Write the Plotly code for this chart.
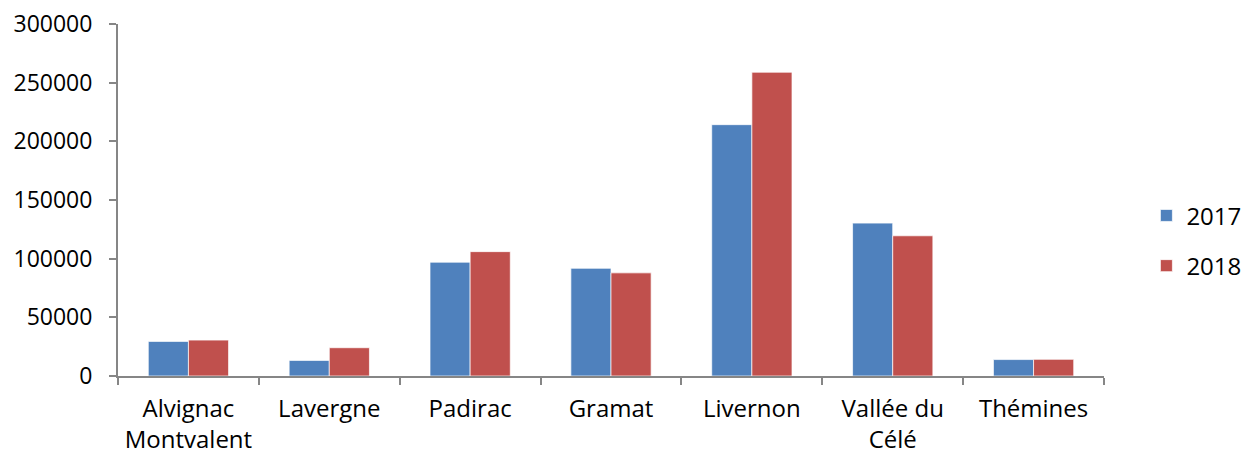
import plotly.graph_objects as go

# communes (x categories)
communes = ["Alvignac<br>Montvalent", "Lavergne", "Padirac", "Gramat",
            "Livernon", "Vallée du<br>Célé", "Thémines"]

# values
values_2017 = [29500, 13300, 97000, 91800, 214200, 130300, 14000]
values_2018 = [30600, 24100, 106000, 87900, 258900, 119500, 14200]

y_ticks = [0, 50000, 100000, 150000, 200000, 250000, 300000]

fig = go.Figure()

fig.add_trace(go.Bar(
    x=communes,
    y=values_2017,
    name="2017",
    legendgroup="a",
    marker=dict(color="#4F81BD", line=dict(color="rgba(255,255,255,0.7)", width=1)),
))
fig.add_trace(go.Bar(
    x=communes,
    y=values_2018,
    name="2018",
    legendgroup="b",
    marker=dict(color="#C0504D", line=dict(color="rgba(255,255,255,0.7)", width=1)),
))

fig.update_layout(
    width=1247,
    height=457,
    barmode="group",
    bargap=0.43,
    bargroupgap=0,
    plot_bgcolor="white",
    paper_bgcolor="white",
    font=dict(family="Open Sans", size=24, color="black"),
    margin=dict(l=118, r=143, t=24, b=81, autoexpand=False),
    showlegend=True,
    legend=dict(
        x=1.043, y=0.384, xanchor="left", yanchor="middle",
        font=dict(size=24), tracegroupgap=16, itemwidth=30,
    ),
    xaxis=dict(
        showline=True, linecolor="#868686", linewidth=2,
        ticks="outside", tickson="boundaries", ticklen=7, tickcolor="#868686",
        tickwidth=2, ticklabelstandoff=10,
        showgrid=False,
    ),
    yaxis=dict(
        range=[0, 300000],
        tickvals=y_ticks,
        tickfont=dict(size=23),
        showline=True, linecolor="#868686", linewidth=2,
        ticks="outside", ticklen=7, tickcolor="#868686", tickwidth=2,
        ticklabelstandoff=12, ticklabeloverflow="allow",
        showgrid=False, zeroline=False,
        tickformat="d",
    ),
)

# drop the browser's default body margin so the figure sits at the page corner
fig.write_html("out.html", config={"displayModeBar": False},
               post_script="document.body.style.margin='0';")
